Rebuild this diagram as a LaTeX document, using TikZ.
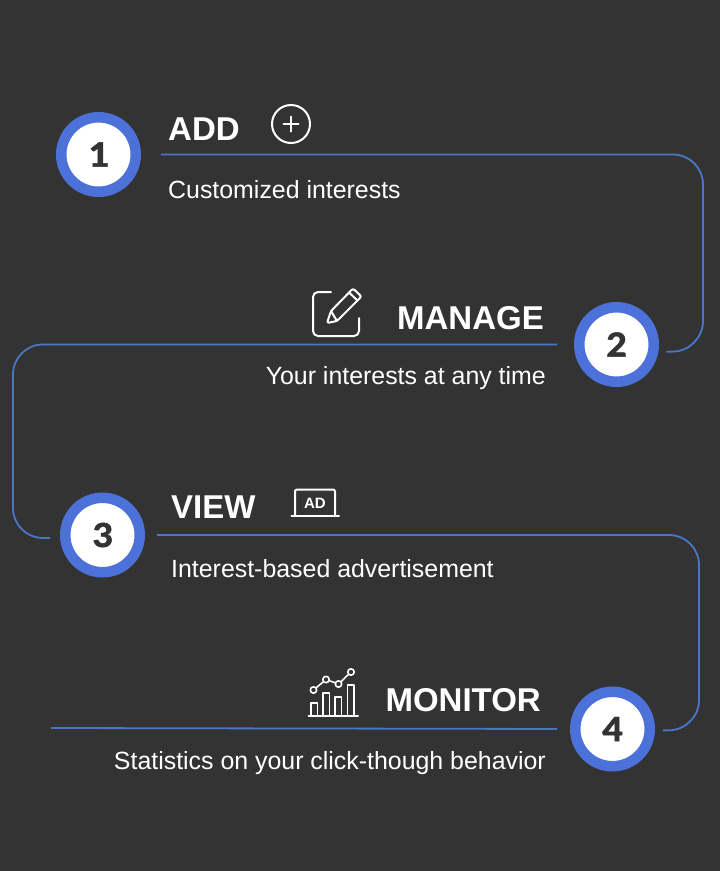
\documentclass[tikz,border=0pt]{standalone}
\usepackage{fontspec}
\setmainfont{Liberation Sans}
\newfontfamily\digitfont[BoldFeatures={FakeBold=1.3,FakeStretch=1.1}]{Carlito}
\definecolor{BackColor}{HTML}{333333}
\definecolor{RingColor}{HTML}{4C72D9}
\definecolor{LineColor}{HTML}{4A76C8}

\tikzstyle{StepCircle}=[circle,draw=RingColor,fill=white,line width=10.5pt,inner sep=0pt,
  minimum size=74.5pt,text=BackColor,font=\digitfont\bfseries\fontsize{37}{40}\selectfont]
\tikzstyle{TitleText}=[white,inner sep=0pt,font=\bfseries\fontsize{33}{36}\selectfont]
\tikzstyle{BodyText}=[white,inner sep=0pt,font=\fontsize{24.9}{28}\selectfont]
\tikzstyle{FlowLine}=[LineColor,line width=1.8pt,rounded corners=30pt]
\tikzstyle{IconLine}=[white,line width=2pt,line join=round,line cap=round]

\begin{document}
\begin{tikzpicture}[x=1pt, y=-1pt]
		% Background
		\fill[BackColor] (0,0) rectangle (720,871);
		\useasboundingbox (0,0) rectangle (720,871);
		
		% Steps
		\draw(98.5,154.5) node[StepCircle] (Step1) {1};
		\draw(616.5,344.5) node[StepCircle] (Step2) {2};
		\draw(102.5,535) node[StepCircle] (Step3) {3};
		\draw(612.5,729) node[StepCircle] (Step4) {4};
		
		% Titles
		\draw(168,140) node[TitleText,anchor=base west] (TitleAdd) {ADD};
		\draw(544,329) node[TitleText,anchor=base east] (TitleManage) {MANAGE};
		\draw(171,518) node[TitleText,anchor=base west] (TitleView) {VIEW};
		\draw(541,711) node[TitleText,anchor=base east] (TitleMonitor) {MONITOR};
		
		% Descriptions
		\draw(168,198) node[BodyText,anchor=base west] (TextAdd) {Customized interests};
		\draw(546,384) node[BodyText,anchor=base east] (TextManage) {Your interests at any time};
		\draw(171,577) node[BodyText,anchor=base west] (TextView) {Interest-based advertisement};
		\draw(546,769) node[BodyText,anchor=base east] (TextMonitor) {Statistics on your click-though behavior};
		
		% Connectors
		\coordinate (LineEnd) at (51,728);
		\draw[FlowLine,shorten <=20pt,shorten >=8pt] (Step1.east) -- (703,154.5) -- (703,351) -- (Step2.-10);
		\draw[FlowLine,shorten <=17pt,shorten >=10pt] (Step2.west) -- (13,344.5) -- (13,538) -- (Step3.184);
		\draw[FlowLine,shorten <=12pt,shorten >=8pt] (Step3.east) -- (699,535) -- (699,730) -- (Step4.-2);
		\draw[FlowLine,shorten <=13pt] (Step4.west) -- (LineEnd);
		
		% Plus icon
		\draw[IconLine] (291,124) circle (19);
		\draw[IconLine] (283.5,124) -- (298.5,124);
		\draw[IconLine] (291,116.5) -- (291,131.5);
		
		% Edit icon
		\draw[IconLine,rounded corners=5pt] (331,292) -- (313,292) -- (313,336) -- (359,336) -- (359,318);
		\draw[IconLine,rounded corners=2pt] (327,323) -- (331,311) -- (353,288.5) -- (361.5,296.5) -- (337,321) -- cycle;
		\draw[IconLine] (331,311) -- (337,321);
		\draw[IconLine] (349,292.5) -- (357.5,300.5);
		
		% Laptop icon
		\draw[IconLine,rounded corners=2pt] (295,515) -- (295,489.5) -- (335,489.5) -- (335,515);
		\draw[IconLine] (291.5,516) -- (339,516);
		\draw(315,508.5) node[anchor=base,white,inner sep=0pt,font=\bfseries\fontsize{15}{16}\selectfont] (LabelAd) {AD};
		
		% Chart icon
		\draw[IconLine] (308.5,715.5) -- (358,715.5);
		\foreach \x/\y in {311/703,323/693,335/697,347.5/685} {
			\draw[IconLine,line width=1.6pt] (\x,715) -- (\x,\y) -- (\x+6.5,\y) -- (\x+6.5,715);
		}
		\draw[IconLine,line width=1.6pt] (313.5,690) -- (326,679.5) -- (338.5,684) -- (351,672);
		\foreach \x/\y in {313.5/690,326/679.5,338.5/684,351/672} {
			\draw[IconLine,line width=1.6pt,fill=BackColor] (\x,\y) circle (3.2);
		}
		
\end{tikzpicture}
\end{document}
